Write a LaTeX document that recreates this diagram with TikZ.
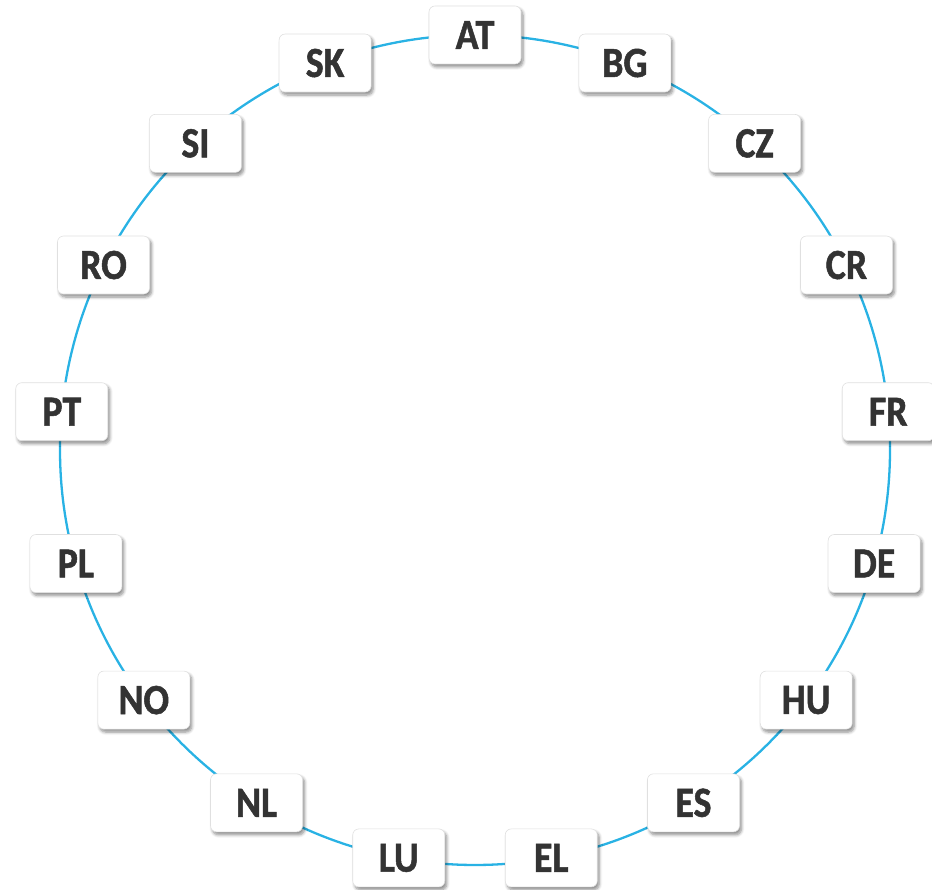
\documentclass[tikz,border=0pt]{standalone}
\usepackage{fontspec}
\newfontfamily\labelfont[FakeStretch=0.88,BoldFeatures={FakeBold=1.2}]{Carlito}
\usetikzlibrary{shadows.blur}
\definecolor{ringblue}{RGB}{41,178,228}
\definecolor{txt}{RGB}{51,51,51}
\tikzset{
  x=1pt,y=1pt,
  ctrybox/.style={draw=black!12, line width=0.6pt, fill=white, rounded corners=6pt,
    minimum width=92pt, minimum height=58pt, inner sep=0pt,
    font=\labelfont\bfseries\fontsize{43}{43}\selectfont, text=txt,
    blur shadow={shadow xshift=2pt, shadow yshift=-3pt, shadow blur steps=6, shadow opacity=45, shadow blur radius=3pt}},
  ring/.style={draw=ringblue, line width=2.3pt}
}
\begin{document}
\begin{tikzpicture}
\useasboundingbox (0,0) rectangle (932,890);
\coordinate (c) at (475,440);
\draw[ring] (c) circle (415);
\foreach \name [count=\i from 0] in {AT,BG,CZ,CR,FR,DE,HU,ES,EL,LU,NL,NO,PL,PT,RO,SI,SK}{
  \node[ctrybox] (n\name) at ($(c)+({90-\i*360/17}:415)$) {\name};
}
\end{tikzpicture}
\end{document}
